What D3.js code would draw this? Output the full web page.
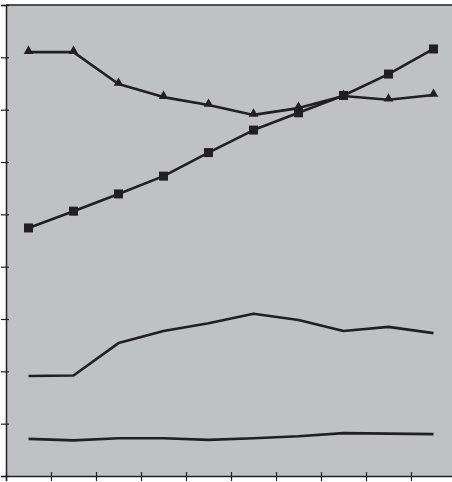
<!DOCTYPE html>
<html>
<head>
<meta charset="utf-8">
<script src="https://cdn.jsdelivr.net/npm/d3@7"></script>
<style>
html,body{margin:0;padding:0;background:#fff;overflow:hidden;}
svg{display:block;}
</style>
</head>
<body>
<svg id="chart" width="452" height="482"></svg>
<script>
const categories = ["1","2","3","4","5","6","7","8","9","10"];
const seriesTriangle = [81.0, 81.0, 74.9, 72.4, 70.9, 69.0, 70.3, 72.6, 71.9, 72.8];
const seriesSquare   = [47.4, 50.6, 53.9, 57.3, 61.8, 66.1, 69.4, 72.7, 76.8, 81.6];
const seriesMiddle   = [19.1, 19.2, 25.4, 27.7, 29.2, 31.0, 29.8, 27.7, 28.5, 27.3];
const seriesBottom   = [7.1, 6.8, 7.2, 7.2, 6.9, 7.2, 7.6, 8.2, 8.1, 8.0];
const yTicks = [0,10,20,30,40,50,60,70,80,90];

(function(){
const svg = d3.select("#chart");
const mL = 6, mT = 5, mR = 456, mB = 476;
const ink = "#231f20";

const x = d3.scaleBand().domain(categories).range([mL, mR]);
const y = d3.scaleLinear().domain([0, 90]).range([mB, mT]);

svg.append("rect").attr("x", mL).attr("y", mT)
  .attr("width", mR - mL).attr("height", mB - mT)
  .attr("fill", "#c0c1c3");

svg.append("line").attr("x1", mL).attr("x2", mR).attr("y1", mT).attr("y2", mT)
  .attr("stroke", ink).attr("stroke-width", 1.5);

const yAxis = d3.axisLeft(y).tickValues(yTicks).tickSize(5).tickFormat("");
const gy = svg.append("g").attr("transform", `translate(${mL},0)`).call(yAxis);
gy.selectAll("path").attr("stroke", ink).attr("stroke-width", 1.5);
gy.selectAll(".tick line").attr("stroke", ink).attr("stroke-width", 1.2).attr("x2", -5).attr("x1", 3);

const bandEdges = categories.map(c => x(c)).concat([mR]);
const xAxis = d3.axisBottom(d3.scaleLinear().domain([mL, mR]).range([mL, mR]))
  .tickValues(bandEdges).tickSize(5).tickFormat("");
const gx = svg.append("g").attr("transform", `translate(0,${mB})`).call(xAxis);
gx.selectAll("path").attr("stroke", ink).attr("stroke-width", 1.5);
gx.selectAll(".tick line").attr("stroke", ink).attr("stroke-width", 1.2).attr("y1", -4).attr("y2", 5);

const cx = c => x(c) + x.bandwidth() / 2;
const line = d3.line().x((d, i) => cx(categories[i])).y(d => y(d));

[seriesBottom, seriesMiddle, seriesSquare, seriesTriangle].forEach(s => {
  svg.append("path").datum(s).attr("d", line)
    .attr("fill", "none").attr("stroke", ink).attr("stroke-width", 2.6)
    .attr("stroke-linejoin", "round");
});

svg.append("g").selectAll("rect").data(seriesSquare).join("rect")
  .attr("x", (d, i) => cx(categories[i]) - 4.5)
  .attr("y", d => y(d) - 4.5)
  .attr("width", 9).attr("height", 9).attr("fill", ink);

const tri = d3.symbol().type(d3.symbolTriangle).size(40);
svg.append("g").selectAll("path").data(seriesTriangle).join("path")
  .attr("d", tri)
  .attr("transform", (d, i) => `translate(${cx(categories[i])},${y(d) - 1})`)
  .attr("fill", ink);
})();
</script>
</body>
</html>
